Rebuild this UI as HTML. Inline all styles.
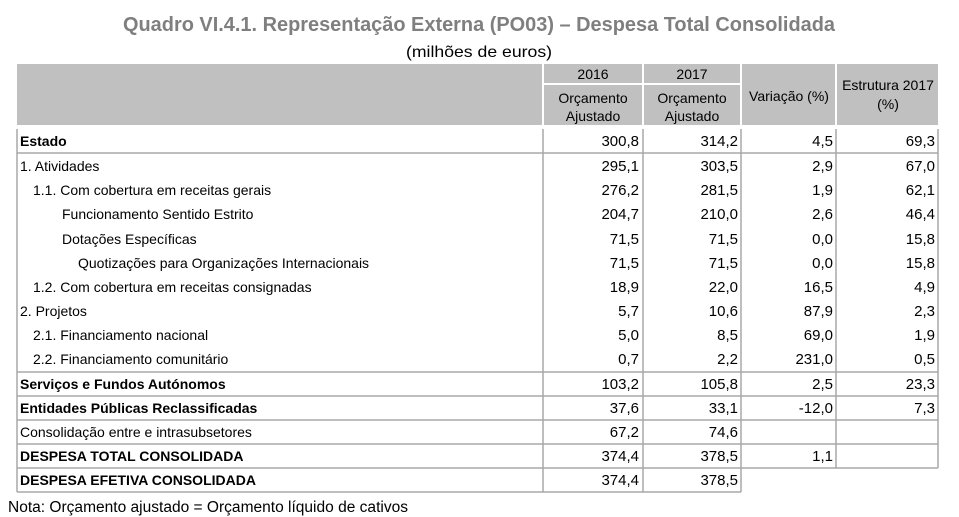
<!DOCTYPE html>
<html><head><meta charset="utf-8"><style>
html,body{margin:0;padding:0;background:#fff;}
svg{display:block;font-family:"Liberation Sans",sans-serif;}
</style></head><body>
<svg width="959" height="517" viewBox="0 0 959 517" xmlns="http://www.w3.org/2000/svg">
<text x="479" y="31" text-anchor="middle" font-size="20" font-weight="bold" fill="#7f7f7f" textLength="712" lengthAdjust="spacingAndGlyphs">Quadro VI.4.1. Representação Externa (PO03) – Despesa Total Consolidada</text>
<text x="479" y="57" text-anchor="middle" font-size="16" fill="#000" textLength="146" lengthAdjust="spacingAndGlyphs">(milhões de euros)</text>
<g fill="#c0c0c0">
<rect x="17" y="64" width="525" height="61"/>
<rect x="544" y="64" width="98" height="19"/>
<rect x="644" y="64" width="96" height="19"/>
<rect x="544" y="85" width="98" height="40"/>
<rect x="644" y="85" width="96" height="40"/>
<rect x="742" y="64" width="93" height="61"/>
<rect x="837" y="64" width="101" height="61"/>
</g>
<g font-size="14" fill="#000" text-anchor="middle">
<text x="593" y="79">2016</text>
<text x="692" y="79">2017</text>
<text x="593" y="103">Orçamento</text>
<text x="593" y="121">Ajustado</text>
<text x="692" y="103">Orçamento</text>
<text x="692" y="121">Ajustado</text>
<text x="789" y="101">Variação (%)</text>
<text x="888" y="90">Estrutura 2017</text>
<text x="888" y="109">(%)</text>
</g>
<g stroke="#a8a8a8" stroke-width="1.5" fill="none">
<line x1="17" y1="129" x2="17" y2="492"/>
<line x1="543" y1="129" x2="543" y2="492"/>
<line x1="643" y1="129" x2="643" y2="492"/>
<line x1="741" y1="129" x2="741" y2="492"/>
<line x1="836" y1="129" x2="836" y2="468"/>
<line x1="938" y1="129" x2="938" y2="468"/>
<line x1="17" y1="153" x2="938" y2="153"/>
<line x1="17" y1="372" x2="938" y2="372"/>
<line x1="17" y1="396" x2="938" y2="396"/>
<line x1="17" y1="420" x2="938" y2="420"/>
<line x1="17" y1="444" x2="938" y2="444"/>
<line x1="17" y1="468" x2="938" y2="468"/>
<line x1="17" y1="492" x2="741" y2="492"/>
</g>
<g font-size="14" fill="#000">
<text x="20" y="146" font-weight="bold">Estado</text>
<text x="20" y="171">1. Atividades</text>
<text x="33" y="195">1.1. Com cobertura em receitas gerais</text>
<text x="62" y="219">Funcionamento Sentido Estrito</text>
<text x="62" y="244">Dotações Específicas</text>
<text x="78" y="268">Quotizações para Organizações Internacionais</text>
<text x="33" y="292">1.2. Com cobertura em receitas consignadas</text>
<text x="20" y="316">2. Projetos</text>
<text x="33" y="340">2.1. Financiamento nacional</text>
<text x="33" y="364">2.2. Financiamento comunitário</text>
<text x="20" y="389" font-weight="bold">Serviços e Fundos Autónomos</text>
<text x="20" y="413" font-weight="bold">Entidades Públicas Reclassificadas</text>
<text x="20" y="437">Consolidação entre e intrasubsetores</text>
<text x="20" y="461" font-weight="bold">DESPESA TOTAL CONSOLIDADA</text>
<text x="20" y="485" font-weight="bold">DESPESA EFETIVA CONSOLIDADA</text>
<text x="8" y="512" font-size="15.5" textLength="400" lengthAdjust="spacingAndGlyphs">Nota: Orçamento ajustado = Orçamento líquido de cativos</text>
</g>
<g font-size="15" fill="#000" text-anchor="end">
<g transform="translate(639,0)">
<text y="146">300,8</text><text y="171">295,1</text><text y="195">276,2</text><text y="219">204,7</text><text y="244">71,5</text><text y="268">71,5</text><text y="292">18,9</text><text y="316">5,7</text><text y="340">5,0</text><text y="364">0,7</text><text y="389">103,2</text><text y="413">37,6</text><text y="437">67,2</text><text y="461">374,4</text><text y="485">374,4</text>
</g>
<g transform="translate(738,0)">
<text y="146">314,2</text><text y="171">303,5</text><text y="195">281,5</text><text y="219">210,0</text><text y="244">71,5</text><text y="268">71,5</text><text y="292">22,0</text><text y="316">10,6</text><text y="340">8,5</text><text y="364">2,2</text><text y="389">105,8</text><text y="413">33,1</text><text y="437">74,6</text><text y="461">378,5</text><text y="485">378,5</text>
</g>
<g transform="translate(833,0)">
<text y="146">4,5</text><text y="171">2,9</text><text y="195">1,9</text><text y="219">2,6</text><text y="244">0,0</text><text y="268">0,0</text><text y="292">16,5</text><text y="316">87,9</text><text y="340">69,0</text><text y="364">231,0</text><text y="389">2,5</text><text y="413">-12,0</text><text y="461">1,1</text>
</g>
<g transform="translate(935,0)">
<text y="146">69,3</text><text y="171">67,0</text><text y="195">62,1</text><text y="219">46,4</text><text y="244">15,8</text><text y="268">15,8</text><text y="292">4,9</text><text y="316">2,3</text><text y="340">1,9</text><text y="364">0,5</text><text y="389">23,3</text><text y="413">7,3</text>
</g>
</g>
</svg>
</body></html>
